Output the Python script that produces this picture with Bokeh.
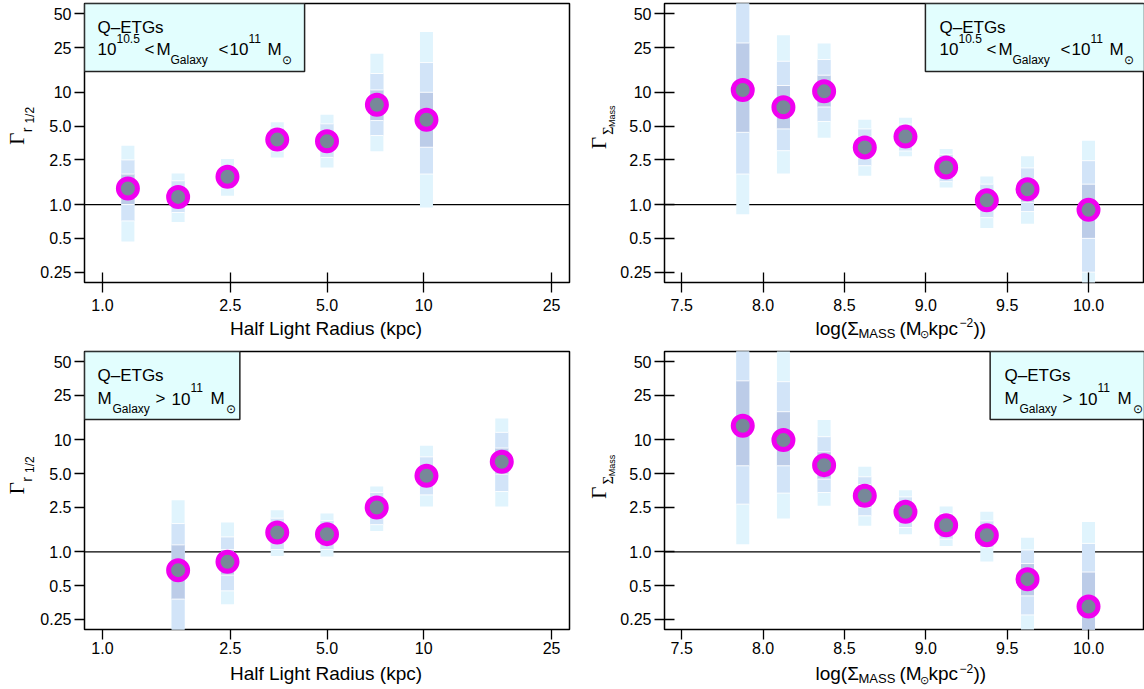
import math
from bokeh.plotting import figure
from bokeh.models import Range1d, FixedTicker, Span, Label, BoxAnnotation
from bokeh.layouts import column, row
from bokeh.embed import file_html
from bokeh.resources import INLINE

# ---------------- data ----------------
y_ticks = [0.25, 0.5, 1.0, 2.5, 5.0, 10, 25, 50]
y_tick_labels = ["0.25", "0.5", "1.0", "2.5", "5.0", "10", "25", "50"]
r_ticks = [1.0, 2.5, 5.0, 10, 25]
r_tick_labels = ["1.0", "2.5", "5.0", "10", "25"]
s_ticks = [7.5, 8.0, 8.5, 9.0, 9.5, 10.0]
s_tick_labels = ["7.5", "8.0", "8.5", "9.0", "9.5", "10.0"]

# top-left: half light radius, 10^10.5 < M < 10^11
tl_r = [1.2, 1.72, 2.45, 3.5, 5.0, 7.15, 10.2]
tl_gamma = [1.39, 1.17, 1.77, 3.79, 3.66, 7.75, 5.69]
tl_lo3 = [0.47, 0.70, 1.20, 2.63, 2.14, 2.98, 0.94]
tl_hi3 = [3.35, 1.89, 2.55, 5.41, 6.30, 22.1, 34.5]
tl_lo2 = [0.715, 0.85, 1.40, 3.0, 2.63, 4.12, 1.87]
tl_hi2 = [2.50, 1.63, 2.20, 4.8, 5.24, 14.7, 18.4]
tl_lo1 = [1.0, 1.0, 1.6, 3.4, 3.1, 5.6, 3.24]
tl_hi1 = [1.87, 1.35, 1.95, 4.2, 4.3, 10.5, 10.0]

# top-right: mass surface density, 10^10.5 < M < 10^11
sm = [7.875, 8.125, 8.375, 8.625, 8.875, 9.125, 9.375, 9.625, 10.0]
tr_gamma = [10.5, 7.37, 10.2, 3.23, 4.03, 2.14, 1.09, 1.37, 0.897]
tr_lo3 = [0.82, 1.89, 3.93, 1.81, 2.69, 1.42, 0.62, 0.676, 0.19]
tr_hi3 = [80, 32.3, 27.2, 5.69, 5.93, 3.13, 1.78, 2.69, 3.71]
tr_lo2 = [1.87, 3.02, 5.5, 2.22, 3.0, 1.6, 0.765, 0.866, 0.25]
tr_hi2 = [70, 18.9, 19.6, 4.72, 5.2, 2.8, 1.52, 2.12, 2.46]
tr_lo1 = [4.4, 4.72, 7.4, 2.6, 3.5, 1.85, 0.9, 1.05, 0.5]
tr_hi1 = [27.5, 11.5, 14.2, 4.0, 4.6, 2.45, 1.3, 1.7, 1.52]

# bottom-left: half light radius, M > 10^11
bl_r = [1.72, 2.45, 3.5, 5.0, 7.14, 10.2, 17.5]
bl_gamma = [0.686, 0.814, 1.49, 1.44, 2.49, 4.78, 6.38]
bl_lo3 = [0.12, 0.34, 0.92, 0.91, 1.54, 2.54, 2.54]
bl_hi3 = [2.9, 1.83, 2.36, 2.2, 3.84, 8.87, 15.6]
bl_lo2 = [0.15, 0.448, 1.05, 1.05, 1.75, 3.23, 3.46]
bl_hi2 = [1.79, 1.36, 2.0, 1.9, 3.4, 7.07, 11.7]
bl_lo1 = [0.378, 0.62, 1.25, 1.22, 2.1, 3.9, 4.95]
bl_hi1 = [1.155, 1.05, 1.75, 1.65, 2.9, 5.8, 8.47]

# bottom-right: mass surface density, M > 10^11
br_gamma = [13.4, 9.98, 5.96, 3.17, 2.28, 1.73, 1.41, 0.57, 0.324]
br_lo3 = [1.17, 1.99, 2.58, 1.71, 1.44, 1.13, 0.82, 0.19, 0.1]
br_hi3 = [80, 80, 15.1, 5.76, 3.56, 2.54, 2.28, 1.34, 1.85]
br_lo2 = [2.67, 3.35, 3.39, 2.1, 1.65, 1.3, 1.09, 0.273, 0.12]
br_hi2 = [70, 33.2, 10.7, 4.69, 3.1, 2.2, 1.89, 1.04, 1.19]
br_lo1 = [5.88, 5.88, 4.47, 2.5, 1.95, 1.5, 1.2, 0.404, 0.15]
br_hi1 = [33.8, 17.9, 7.84, 4.0, 2.7, 1.95, 1.65, 0.786, 0.66]

# ---------------- style ----------------
LIGHT = "#E0F4FD"
MID = "#D2E4F8"
DARK = "#BCCCE8"
RING = "#F000F0"
CORE = "#778899"
BOXFILL = "#E2FEFE"
SANS = "Liberation Sans"
SERIF = "Liberation Serif"
MID_OFF = 0.347   # baseline -> middle of the text box, in em

Y0, Y1 = 10 ** (-0.694101), 10 ** 1.791011
RX0, RX1 = 10 ** (-0.055918), 10 ** 1.453858
SX0, SX1 = 7.3941, 10.3440


def panel(left, top, w, h, mbl, mbr, mbt, mbb, xlog, xr):
    return dict(left=left, top=top, w=w, h=h, mbl=mbl, mbr=mbr, mbt=mbt, mbb=mbb,
                fl=left + mbl, fr=left + w - mbr, ft=top + mbt, fb=top + h - mbb,
                xlog=xlog, xr=xr)


def to_data(P, px, py):
    tx = (px - P["fl"]) / (P["fr"] - P["fl"])
    x0, x1 = P["xr"]
    if P["xlog"]:
        x = 10 ** (math.log10(x0) + tx * (math.log10(x1) - math.log10(x0)))
    else:
        x = x0 + tx * (x1 - x0)
    ty = (P["fb"] - py) / (P["fb"] - P["ft"])
    y = 10 ** (math.log10(Y0) + ty * (math.log10(Y1) - math.log10(Y0)))
    return x, y


def add_text(p, P, px, base, text, size, font=SANS, align="left"):
    # horizontal text given by its baseline (page px); anchored at box middle
    py = base - MID_OFF * size
    p.add_layout(Label(x=px - P["fl"], y=P["fb"] - py, x_units="screen", y_units="screen",
                       text=text, text_font=font,
                       text_font_size=f"{size}px", text_color="black",
                       text_align=align, text_baseline="middle"))


def build(P, xs, g, lo3, hi3, lo2, hi2, lo1, hi1, top_row, left_col):
    p = figure(width=P["w"], height=P["h"],
               x_axis_type="log" if P["xlog"] else "linear", y_axis_type="log",
               x_range=Range1d(*P["xr"]), y_range=Range1d(Y0, Y1),
               output_backend="svg", toolbar_location=None,
               min_border_left=P["mbl"], min_border_right=P["mbr"],
               min_border_top=P["mbt"], min_border_bottom=P["mbb"])
    p.grid.visible = False
    p.outline_line_color = "black"
    p.outline_line_width = 1.5
    p.outline_line_alpha = 1.0
    p.background_fill_color = "white"
    p.border_fill_color = "white"

    p.yaxis.ticker = FixedTicker(ticks=y_ticks)
    p.yaxis.major_label_overrides = {t: l for t, l in zip(y_ticks, y_tick_labels)}
    if P["xlog"]:
        p.xaxis.ticker = FixedTicker(ticks=r_ticks)
        p.xaxis.major_label_overrides = {t: l for t, l in zip(r_ticks, r_tick_labels)}
    else:
        p.xaxis.ticker = FixedTicker(ticks=s_ticks)
        p.xaxis.major_label_overrides = {t: l for t, l in zip(s_ticks, s_tick_labels)}

    for ax in p.axis:
        ax.axis_line_color = None
        ax.major_tick_line_color = "black"
        ax.major_tick_line_width = 1.3
        ax.minor_tick_line_color = None
        ax.major_label_text_font = SANS
        ax.major_label_text_font_size = "16px"
        ax.major_label_text_color = "black"
    p.yaxis.major_tick_out = 10
    p.yaxis.major_tick_in = 0 if left_col else 10
    p.yaxis.major_label_standoff = 3
    p.xaxis.major_tick_out = 10
    p.xaxis.major_tick_in = 10 if top_row else 0
    p.xaxis.major_label_standoff = 6 if top_row else 2

    p.add_layout(Span(location=1.0, dimension="width", line_color="black",
                      line_width=1.2, level="underlay"))

    p.segment(x0=xs, y0=lo3, x1=xs, y1=hi3, line_width=13, line_color=LIGHT, line_cap="butt")
    p.segment(x0=xs, y0=lo2, x1=xs, y1=hi2, line_width=13, line_color=MID, line_cap="butt")
    p.segment(x0=xs, y0=lo1, x1=xs, y1=hi1, line_width=13, line_color=DARK, line_cap="butt")
    sep_x = list(xs) * 4
    sep_y = list(lo2) + list(hi2) + list(lo1) + list(hi1)
    p.scatter(x=sep_x, y=sep_y, marker="dash", size=13, line_color="white",
              line_width=1, line_alpha=0.9)
    p.scatter(x=xs, y=g, marker="circle", size=19, fill_color=CORE,
              line_color=RING, line_width=5)
    return p


# text strips (plain figures whose frame covers the whole canvas)
def strip(left, top, w, h):
    s = figure(width=w, height=h, x_range=Range1d(0, w), y_range=Range1d(h, 0),
               output_backend="svg", toolbar_location=None,
               x_axis_location=None, y_axis_location=None,
               min_border_left=0, min_border_right=0, min_border_top=0, min_border_bottom=0)
    s.grid.visible = False
    s.outline_line_color = None
    s.background_fill_color = "white"
    s.border_fill_color = "white"
    s.tags = [left, top]
    return s


def strip_h(s, px, base, text, size, font=SANS, align="left"):
    left, top = s.tags
    py = base - MID_OFF * size
    s.add_layout(Label(x=px - left, y=py - top, text=text, text_font=font,
                       text_font_size=f"{size}px", text_color="black",
                       text_align=align, text_baseline="middle"))


def strip_v(s, cx, cy, text, size, font=SANS):
    # vertical (bottom-to-top) text, centred on (cx, cy) in page px
    left, top = s.tags
    s.add_layout(Label(x=cx - left, y=cy - top, text=text, text_font=font,
                       text_font_size=f"{size}px", text_color="black",
                       angle=math.pi / 2, text_align="center", text_baseline="middle"))


# layout geometry (page pixels)
LS, RS = 37, 617          # left edges of the two main figures
H1, H2 = 317, 312         # main figure heights
TL = panel(LS, 0, 582 - LS, H1, 82 - LS, 13, 3, 35, True, (RX0, RX1))
TR = panel(RS, 0, 1144 - RS, H1, 662 - RS, 0, 3, 35, False, (SX0, SX1))
BL = panel(LS, 348, 582 - LS, H2, 82 - LS, 13, 3, 31, True, (RX0, RX1))
BR = panel(RS, 348, 1144 - RS, H2, 662 - RS, 0, 3, 31, False, (SX0, SX1))

p_tl = build(TL, tl_r, tl_gamma, tl_lo3, tl_hi3, tl_lo2, tl_hi2, tl_lo1, tl_hi1, True, True)
p_tr = build(TR, sm, tr_gamma, tr_lo3, tr_hi3, tr_lo2, tr_hi2, tr_lo1, tr_hi1, True, False)
p_bl = build(BL, bl_r, bl_gamma, bl_lo3, bl_hi3, bl_lo2, bl_hi2, bl_lo1, bl_hi1, False, True)
p_br = build(BR, sm, br_gamma, br_lo3, br_hi3, br_lo2, br_hi2, br_lo1, br_hi1, False, False)


# ---------------- legend boxes ----------------
def legend(p, P, box_left, box_w, pieces):
    bx0, by0 = to_data(P, box_left, P["ft"])
    bx1, by1 = to_data(P, box_left + box_w, P["ft"] + 68)
    p.add_layout(BoxAnnotation(left=bx0, right=bx1, top=by0, bottom=by1,
                               fill_color=BOXFILL, fill_alpha=1.0,
                               line_color="#222222", line_width=1.5, line_alpha=1.0,
                               level="annotation"))
    for txt, dx, base, size in pieces:
        add_text(p, P, box_left + dx, P["ft"] + base, txt, size)


# (text, x offset from box left, baseline offset from frame top, font px)
pieces_mid = [
    ("Q\u2013ETGs", 13, 29.7, 17),
    ("10", 13, 51.5, 17),
    ("10.5", 32, 38.7, 12),
    ("<", 60, 51.5, 17),
    ("M", 72, 51.5, 17),
    ("Galaxy", 86, 60.5, 12),
    ("<", 134, 51.5, 17),
    ("10", 145, 51.5, 17),
    ("11", 164, 38.7, 12),
    ("M", 183, 51.5, 17),
    ("\u2299", 197, 60.5, 12),
]
pieces_high = [
    ("Q\u2013ETGs", 13, 29.7, 17),
    ("M", 13, 53, 17),
    ("Galaxy", 28, 62, 12),
    (">", 71, 53, 17),
    ("10", 87, 53, 17),
    ("11", 106, 40.4, 12),
    ("M", 126, 53, 17),
    ("\u2299", 141, 62, 12),
]
legend(p_tl, TL, TL["fl"], 221, pieces_mid)
legend(p_tr, TR, 924, TR["fr"] - 924, pieces_mid)
legend(p_bl, BL, BL["fl"], 156, pieces_high)
legend(p_br, BR, 989, BR["fr"] - 989, pieces_high)

# ---------------- axis titles (in strips) ----------------
sL1 = strip(0, 0, LS, H1)
sR1 = strip(582, 0, RS - 582, H1)
sT1 = strip(0, H1, 1144, 348 - H1)
sL2 = strip(0, 348, LS, H2)
sR2 = strip(582, 348, RS - 582, H2)
sT2 = strip(0, 348 + H2, 1144, 688 - 348 - H2)


def gamma_r(s, ft):
    strip_v(s, 16.0, ft + 150.5, "\u0393", 21, font=SERIF)
    strip_v(s, 26.5, ft + 140.5, "r", 14)
    strip_v(s, 29.0, ft + 124.0, "1/2", 12)


def gamma_s(s, ft):
    strip_v(s, 598.0, ft + 155.5, "\u0393", 21, font=SERIF)
    strip_v(s, 607.5, ft + 141.5, "\u03A3", 14, font=SERIF)
    strip_v(s, 611.0, ft + 125.0, "Mass", 9)


def titles(s, P_left, base):
    strip_h(s, (P_left["fl"] + P_left["fr"]) / 2, base, "Half Light Radius (kpc)", 19, align="center")
    strip_h(s, 815, base, "log(\u03A3", 19)
    strip_h(s, 858, base + 3, "MASS", 13)
    strip_h(s, 899, base, "(M", 19)
    strip_h(s, 919, base + 3, "\u2299", 11)
    strip_h(s, 928, base, "kpc", 19)
    strip_h(s, 959, base - 8, "\u22122", 12)
    strip_h(s, 973, base, "))", 19)


gamma_r(sL1, TL["ft"])
gamma_r(sL2, BL["ft"])
gamma_s(sR1, TR["ft"])
gamma_s(sR2, BR["ft"])
titles(sT1, TL, 334.5)
titles(sT2, BL, 680.0)

layout = column(
    row(sL1, p_tl, sR1, p_tr, spacing=0),
    sT1,
    row(sL2, p_bl, sR2, p_br, spacing=0),
    sT2,
    spacing=0,
)
open("out.html", "w").write(file_html(layout, INLINE))
